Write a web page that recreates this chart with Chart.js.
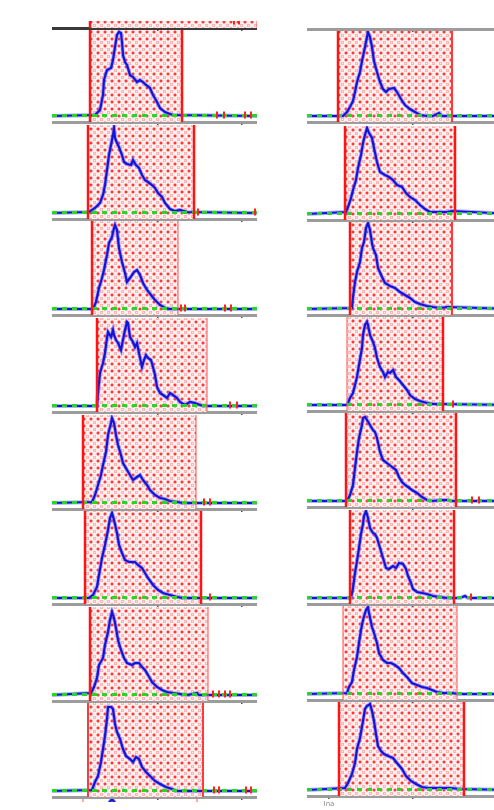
<!DOCTYPE html>
<html>
<head>
<meta charset="utf-8">
<script src="https://cdn.jsdelivr.net/npm/chart.js@4.4.1/dist/chart.umd.min.js"></script>
<style>
  html, body { margin: 0; padding: 0; background: #fff; width: 494px; height: 810px; overflow: hidden; position: relative; }
  .cell { position: absolute; overflow: hidden; }
  .cell canvas { position: absolute; left: 0; }
</style>
</head>
<body>
<script>
// ---- shared bin axis ----
const binRange = [-22, 183];
const binTicks = [0, 84, 168];
const countRange = [-6, 88];

// ---- left column: selected interval [lo, hi] per row ----
const leftIntervals = [[16,108],[14,120],[18,104],[23,133],[9,122],[11,127],[16,134],[14,129]];

// ---- left column histograms: [bin, count] ----
const histL1 = [[21,1],[26,6],[29,21],[30,36],[33,46],[37,48],[39,56],[41,69],[43,81],[45,84],[47,83],[48,74],[49,61],[51,54],[53,51],[56,41],[59,39],[63,34],[66,36],[69,34],[72,31],[76,28],[79,21],[83,14],[86,8],[91,4],[96,2],[99,1]];
const histL2 = [[15,1],[21,5],[26,10],[29,18],[31,28],[33,43],[35,58],[37,68],[39,78],[40,85],[41,75],[43,70],[45,66],[48,58],[50,51],[53,49],[57,48],[59,53],[62,48],[65,45],[68,38],[71,33],[74,31],[78,28],[81,25],[84,20],[88,16],[91,10],[96,4],[101,2],[106,3],[113,1]];
const histL3 = [[19,0],[22,7],[25,21],[28,31],[30,39],[33,54],[35,66],[38,72],[40,81],[41,84],[43,79],[45,61],[48,47],[51,36],[53,27],[56,31],[60,37],[63,39],[66,34],[69,26],[73,19],[77,14],[81,9],[86,4],[91,1],[96,0]];
const histL4 = [[23,0],[24,13],[26,33],[29,43],[31,53],[33,68],[34,74],[37,69],[39,76],[40,71],[42,66],[44,63],[47,56],[49,66],[51,76],[53,84],[54,83],[56,69],[59,64],[61,59],[63,63],[65,53],[68,39],[70,46],[72,51],[74,48],[77,46],[79,39],[81,31],[83,19],[86,13],[89,11],[93,8],[96,13],[99,11],[103,8],[106,4],[111,1],[116,4],[121,3],[126,1],[131,0]];
const histL5 = [[18,1],[21,8],[24,18],[27,28],[29,38],[32,51],[34,68],[37,80],[38,85],[40,80],[42,68],[44,58],[47,48],[49,40],[53,33],[56,28],[59,23],[63,26],[66,28],[69,23],[73,18],[76,13],[81,8],[86,5],[91,4],[96,2],[103,1],[109,0]];
const histL6 = [[15,0],[19,3],[23,11],[25,23],[28,40],[31,53],[34,68],[36,80],[38,85],[40,78],[43,65],[45,53],[48,45],[51,38],[55,36],[61,36],[64,33],[68,30],[71,25],[74,20],[79,13],[84,8],[89,5],[96,3],[103,1],[109,0]];
const histL7 = [[17,2],[20,8],[23,17],[25,30],[29,37],[31,50],[34,63],[36,75],[38,83],[40,77],[42,67],[44,55],[47,45],[50,37],[53,32],[58,30],[61,32],[65,32],[68,28],[71,25],[74,20],[78,13],[83,8],[88,5],[93,3],[99,2],[106,1],[113,0],[119,1],[123,2],[125,0]];
const histL8 = [[18,1],[21,9],[24,15],[27,29],[29,42],[31,55],[33,72],[34,84],[37,84],[39,82],[41,67],[43,59],[46,52],[49,42],[52,35],[56,32],[59,29],[62,34],[65,32],[68,24],[72,19],[76,15],[81,10],[86,7],[92,4],[98,2],[103,0],[113,0],[119,0]];

// ---- left column: isolated counts beyond the interval ----
const strayL = [[143,150,171,177],[124,181],[107,111,151,157],[156,163],[130,136],[136],[139,145,151,156],[140,145,172,177]];

// ---- right column: selected interval [lo, hi] per row ----
const rightIntervals = [[9,123],[16,126],[21,123],[18,114],[17,127],[21,125],[14,128],[10,135]];

// ---- right column histograms: [bin, count] ----
const histR1 = [[14,0],[18,4],[21,9],[24,15],[26,24],[28,34],[31,44],[33,55],[36,69],[38,79],[39,84],[41,79],[43,69],[45,55],[48,44],[51,34],[54,27],[57,24],[60,27],[65,28],[68,24],[72,17],[76,11],[81,7],[86,4],[91,1],[98,0],[104,0],[108,2],[110,3],[113,0]];
const histR2 = [[17,2],[19,7],[22,16],[24,24],[27,34],[29,46],[32,59],[34,71],[36,79],[38,86],[40,81],[43,76],[45,66],[48,52],[51,42],[56,39],[60,37],[64,34],[68,29],[73,27],[77,21],[81,17],[86,14],[91,9],[96,5],[101,2],[108,2],[118,2],[123,3]];
const histR3 = [[23,1],[24,12],[26,27],[28,37],[31,47],[33,61],[35,67],[37,81],[39,86],[41,79],[43,66],[44,61],[47,54],[49,41],[53,32],[56,26],[61,23],[66,21],[71,17],[76,14],[81,11],[86,7],[91,5],[98,3],[104,2],[111,1],[118,2]];
const histR4 = [[18,0],[21,7],[24,12],[26,20],[28,28],[30,40],[33,57],[34,70],[36,80],[38,83],[39,80],[41,70],[44,63],[46,57],[48,47],[51,38],[54,33],[56,28],[59,33],[61,32],[64,35],[67,28],[70,25],[74,20],[78,15],[81,10],[86,6],[91,4],[98,2],[104,1],[111,1]];
const histR5 = [[18,0],[21,6],[24,16],[26,33],[28,49],[30,63],[33,76],[34,83],[36,84],[38,81],[41,76],[44,71],[46,69],[48,63],[51,49],[54,41],[58,38],[63,34],[67,31],[70,24],[73,19],[76,16],[79,14],[83,11],[88,8],[93,4],[98,1],[104,0],[111,1],[118,1],[123,0]];
const histR6 = [[22,0],[24,10],[26,25],[28,37],[30,50],[32,64],[34,74],[35,82],[37,87],[39,80],[41,70],[44,65],[46,64],[48,60],[51,50],[54,40],[57,30],[60,29],[64,32],[67,30],[70,35],[74,34],[77,29],[79,22],[82,15],[84,9],[88,6],[93,5],[98,4],[104,2],[111,1],[118,0],[124,0],[131,0],[136,2],[139,0]];
const histR7 = [[18,1],[20,7],[23,12],[25,24],[28,37],[30,51],[32,64],[34,74],[37,84],[39,87],[40,81],[43,67],[45,61],[48,51],[50,41],[54,34],[58,31],[62,31],[66,29],[70,26],[74,21],[78,17],[83,11],[88,9],[93,7],[98,6],[103,4],[108,2],[114,1],[123,1],[129,0]];
const histR8 = [[16,2],[19,7],[23,16],[26,27],[28,41],[31,52],[34,69],[36,81],[38,84],[41,86],[43,79],[45,69],[47,56],[49,44],[52,39],[55,36],[59,34],[64,32],[68,27],[73,21],[77,14],[82,9],[87,6],[93,3],[99,2],[106,2],[113,2],[121,2],[131,1]];

const strayR = [[],[],[],[124],[143,150],[142],[],[]];

// ---- neighbouring panels cut by the page edges ----
const intervalAbove = [16,183];
const strayAbove = [160,165];
const intervalBelow = [9,123];
const histBelow = [[35,84],[38,88],[41,84]];
const bottomTickLabel = 'Ina';

// ---- presentation ----
const edgeStyle = {
  H: { color: '#ff1414', width: 2.5 },
  M: { color: '#ff3a3a', width: 2 },
  L: { color: 'rgba(255,95,95,0.8)', width: 1.4 }
};
const leftEdges  = ['HH','HH','HL','HL','HL','HH','HL','MM'];
const rightEdges = ['HM','HH','HM','LH','HH','HH','LL','HH'];
const leftAxisY  = [122, 219, 315, 412, 509, 604, 701, 797];
const rightAxisY = [122, 220, 315, 411, 507, 604, 700, 796];
const colX = [52, 307];
const PANEL_W = 205, AREA_H = 94;

// dotted fill: red dots on a 7px lattice with pale pink rings between them
function dotPattern() {
  const c = document.createElement('canvas');
  c.width = 7; c.height = 7;
  const g = c.getContext('2d');
  g.fillStyle = '#ffefef'; g.fillRect(0, 0, 7, 7);
  g.fillStyle = 'rgba(255,160,160,0.75)';
  [[1,0],[6,0],[0,1],[0,6],[1,1],[6,6],[1,6],[6,1]].forEach(([a,b]) => g.fillRect(a, b, 1, 1));
  g.fillStyle = 'rgba(255,110,110,0.55)';
  [[2,3],[5,3],[3,2],[3,5],[2,4],[5,4],[4,2],[4,5]].forEach(([a,b]) => g.fillRect(a, b, 1, 1));
  g.fillStyle = '#ff3838'; g.fillRect(3, 3, 2, 2);
  return g.createPattern(c, 'repeat');
}
const pattern = dotPattern();

const toXY = arr => arr.map(([x, y]) => ({ x, y }));

function addPanel(p) {
  const axisH = p.axisH || 6;
  const canvasTop = p.axisY - AREA_H;
  const clipTop = p.clipTop !== undefined ? p.clipTop : canvasTop;
  const clipBottom = p.clipBottom !== undefined ? p.clipBottom : canvasTop + AREA_H + axisH;
  const cell = document.createElement('div');
  cell.className = 'cell';
  cell.style.left = p.x + 'px';
  cell.style.top = clipTop + 'px';
  cell.style.width = PANEL_W + 'px';
  cell.style.height = (clipBottom - clipTop) + 'px';
  cell.style.zIndex = p.z;
  const cv = document.createElement('canvas');
  cv.width = PANEL_W; cv.height = AREA_H + axisH;
  cv.style.top = (canvasTop - clipTop) + 'px';
  cell.appendChild(cv);
  document.body.appendChild(cell);

  const ds = [];
  if (p.interval) {
    const [lo, hi] = p.interval;
    if (p.fill !== false) {
      ds.push({ type: 'line', data: [{ x: lo, y: countRange[1] }, { x: hi, y: countRange[1] }],
        borderWidth: 0, pointRadius: 0, fill: 'start', backgroundColor: pattern, order: 9 });
    }
    const es = p.edges || 'HH';
    [lo, hi].forEach((v, i) => {
      const st = edgeStyle[es[i]];
      ds.push({ type: 'line', data: [{ x: v, y: countRange[0] }, { x: v, y: countRange[1] }],
        borderColor: st.color, borderWidth: st.width, pointRadius: 0, fill: false, order: 2 });
    });
  }
  if (p.hist) {
    const pts = p.flat === false ? toXY(p.hist)
      : [{ x: binRange[0], y: 0 }, ...toXY(p.hist), { x: binRange[1], y: 0 }];
    ds.push({ type: 'line', data: pts, borderColor: 'rgba(110,110,255,0.55)', borderWidth: 4,
      pointRadius: 0, fill: false, tension: 0, order: 6 });
    ds.push({ type: 'line', data: pts, borderColor: '#1414d8', borderWidth: 2.2,
      pointRadius: 0, fill: false, tension: 0, order: 5 });
  }
  if (p.base !== false) {
    ds.push({ type: 'line', data: [{ x: binRange[0], y: 0.5 }, { x: binRange[1], y: 0.5 }],
      borderColor: '#27d627', borderWidth: 3, borderDash: [5, 5], pointRadius: 0, fill: false, order: 4 });
  }
  if (p.stray && p.stray.length) {
    ds.push({ type: 'scatter', data: p.stray.map(x => ({ x, y: 1 })), pointStyle: 'line', rotation: 90,
      radius: 3.5, borderColor: '#ff2020', borderWidth: 2, backgroundColor: '#ff2020', order: 1 });
  }

  new Chart(cv, {
    data: { datasets: ds },
    options: {
      responsive: false, animation: false, devicePixelRatio: 1, events: [],
      layout: { padding: 0, autoPadding: false },
      plugins: { legend: { display: false }, tooltip: { enabled: false } },
      scales: {
        x: {
          type: 'linear', position: 'bottom', min: binRange[0], max: binRange[1],
          afterBuildTicks: s => { s.ticks = binTicks.map(v => ({ value: v })); },
          afterFit: s => { s.height = axisH; },
          grid: { drawOnChartArea: false, drawTicks: true, tickLength: 3, color: '#4a4a4a', lineWidth: 1.5 },
          border: { display: true, color: p.axisColor || '#9c9c9c', width: 3 },
          ticks: {
            display: !!p.tickLabel, padding: 1, color: '#8a8a8a', maxRotation: 0, autoSkip: false,
            font: { family: 'DejaVu Sans', size: 7 },
            callback: v => (v === 0 ? p.tickLabel : '')
          }
        },
        y: { display: false, min: countRange[0], max: countRange[1] }
      }
    }
  });
}

// neighbouring panels at the top edge
addPanel({ x: colX[0], axisY: 28, clipTop: 21, clipBottom: 34, z: 30, interval: intervalAbove,
  edges: 'HL', stray: strayAbove, base: false, axisColor: '#3a3a3a' });
addPanel({ x: colX[1], axisY: 29, clipTop: 25, clipBottom: 35, z: 30, base: false });

const histLeft = [histL1, histL2, histL3, histL4, histL5, histL6, histL7, histL8];
const histRight = [histR1, histR2, histR3, histR4, histR5, histR6, histR7, histR8];

for (let r = 0; r < 8; r++) {
  addPanel({ x: colX[0], axisY: leftAxisY[r], z: 28 - r, interval: leftIntervals[r],
    edges: leftEdges[r], hist: histLeft[r], stray: strayL[r] });
  const last = r === 7;
  addPanel({ x: colX[1], axisY: rightAxisY[r], z: 28 - r, interval: rightIntervals[r],
    edges: rightEdges[r], hist: histRight[r], stray: strayR[r],
    axisH: last ? 14 : 6, tickLabel: last ? bottomTickLabel : null });
}

// neighbouring panel at the bottom edge
addPanel({ x: colX[0], axisY: 893, clipTop: 799, clipBottom: 802, z: 10, interval: intervalBelow,
  edges: 'LL', fill: false, hist: histBelow, flat: false, base: false });
</script>
</body>
</html>
